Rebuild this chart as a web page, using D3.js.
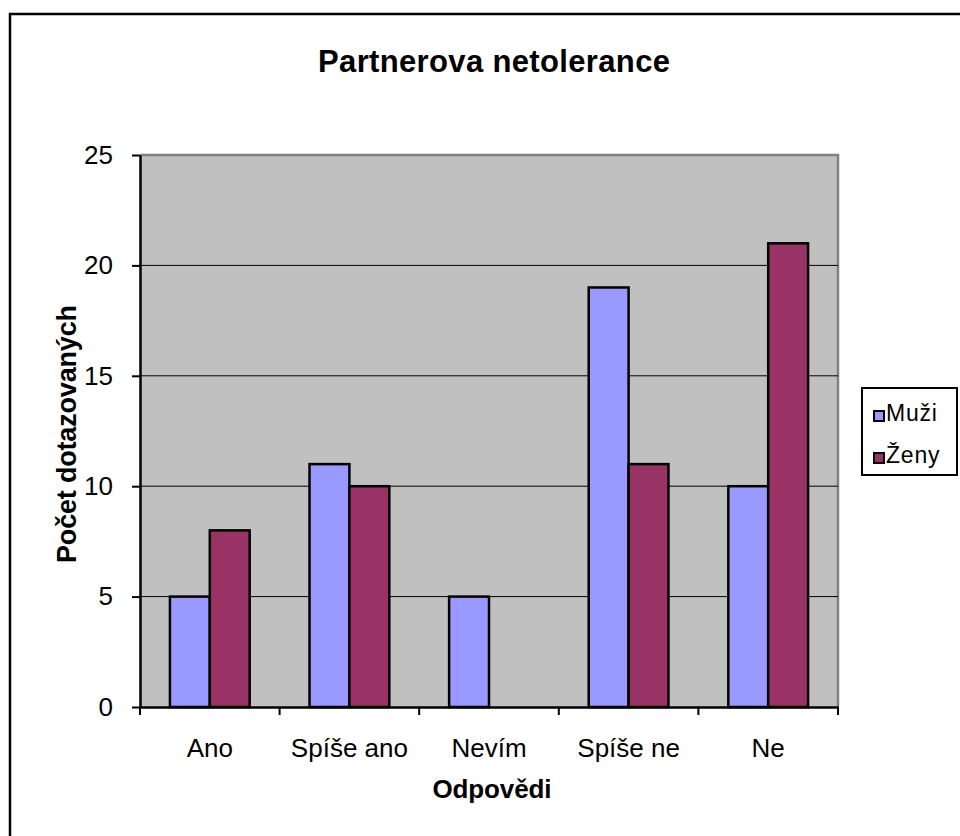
<!DOCTYPE html>
<html><head><meta charset="utf-8">
<script src="https://cdn.jsdelivr.net/npm/d3@7"></script>
<style>
html,body{margin:0;padding:0;background:#fff;}
svg{display:block;font-family:"Liberation Sans",Arial,sans-serif;}
</style></head>
<body>
<svg id="chart" width="960" height="836"></svg>
<script>
const categories = ["Ano", "Spíše ano", "Nevím", "Spíše ne", "Ne"];
const seriesNames = ["Muži", "Ženy"];
const muzi = [5, 11, 5, 19, 10];
const zeny = [8, 10, 0, 11, 21];
const yTicks = [0, 5, 10, 15, 20, 25];
const colors = ["#9999FF", "#993366"];

const values = [muzi, zeny];
const svg = d3.select("#chart");

// outer chart border
svg.append("rect").attr("x", 10).attr("y", 14).attr("width", 1000).attr("height", 900)
  .attr("fill", "#fff").attr("stroke", "#000").attr("stroke-width", 2.5);

const L = 140, R = 838, T = 155, B = 707;
const y = d3.scaleLinear().domain([0, 25]).range([B, T]);
const x0 = d3.scaleBand().domain(categories).range([L, R]).padding(0);
const x1 = d3.scaleBand().domain(seriesNames).range([0, x0.bandwidth()]).paddingInner(0).paddingOuter(0.75);

// plot area
svg.append("rect").attr("x", L).attr("y", T).attr("width", R - L).attr("height", B - T)
  .attr("fill", "#C0C0C0");
svg.append("path").attr("d", `M${L},${T}H${R}V${B}`).attr("fill", "none")
  .attr("stroke", "#808080").attr("stroke-width", 2.5);

// gridlines
svg.append("g").selectAll("line").data(yTicks.filter(t => t > 0 && t < 25)).join("line")
  .attr("x1", L).attr("x2", R).attr("y1", d => y(d)).attr("y2", d => y(d))
  .attr("stroke", "#000").attr("stroke-width", 1);

// bars
const groups = svg.append("g").selectAll("g").data(categories).join("g")
  .attr("transform", d => `translate(${x0(d)},0)`);
groups.selectAll("rect").data((c, i) => seriesNames.map((s, j) => ({s, j, v: values[j][i]})).filter(d => d.v > 0))
  .join("rect")
  .attr("x", d => x1(d.s)).attr("width", x1.bandwidth())
  .attr("y", d => y(d.v)).attr("height", d => y(0) - y(d.v))
  .attr("fill", d => colors[d.j]).attr("stroke", "#000").attr("stroke-width", 2.5);

// y axis
const yAxis = svg.append("g").attr("transform", `translate(${L},0)`)
  .call(d3.axisLeft(y).tickValues(yTicks).tickSize(8).tickPadding(19).tickSizeOuter(0));
yAxis.select(".domain").attr("stroke", "#000").attr("stroke-width", 2.5);
yAxis.selectAll(".tick line").attr("stroke", "#000").attr("stroke-width", 2);
yAxis.selectAll(".tick text").attr("font-size", 26).attr("fill", "#000")
  .attr("font-family", "Liberation Sans, Arial, sans-serif");

// x axis
const xAxis = svg.append("g").attr("transform", `translate(0,${B})`)
  .call(d3.axisBottom(x0).tickSize(0).tickPadding(0).tickSizeOuter(0));
xAxis.select(".domain").attr("stroke", "#000").attr("stroke-width", 2.5);
xAxis.selectAll(".tick text").attr("font-size", 26).attr("fill", "#000")
  .attr("font-family", "Liberation Sans, Arial, sans-serif")
  .attr("dy", null).attr("y", 50);
// category boundary tick marks
const bounds = categories.map(c => x0(c)).concat([R]);
svg.append("g").selectAll("line").data(bounds).join("line")
  .attr("x1", d => d).attr("x2", d => d).attr("y1", B).attr("y2", B + 8)
  .attr("stroke", "#000").attr("stroke-width", 2);

// title
svg.append("text").attr("x", 494).attr("y", 72).attr("text-anchor", "middle")
  .attr("font-size", 31).attr("font-weight", "bold")
  .attr("textLength", 352).attr("lengthAdjust", "spacing")
  .text("Partnerova netolerance");

// axis titles
svg.append("text").attr("x", 492).attr("y", 798).attr("text-anchor", "middle")
  .attr("font-size", 26).attr("font-weight", "bold")
  .attr("textLength", 119).attr("lengthAdjust", "spacing")
  .text("Odpovědi");
svg.append("text").attr("transform", "translate(76,434) rotate(-90)").attr("text-anchor", "middle")
  .attr("font-size", 27).attr("font-weight", "bold")
  .attr("textLength", 258).attr("lengthAdjust", "spacing")
  .text("Počet dotazovaných");

// legend
const lg = svg.append("g");
lg.append("rect").attr("x", 862).attr("y", 388).attr("width", 95).attr("height", 87)
  .attr("fill", "#fff").attr("stroke", "#000").attr("stroke-width", 2);
const items = lg.selectAll("g").data(seriesNames).join("g")
  .attr("transform", (d, i) => `translate(0,${i * 42})`);
items.append("rect").attr("x", 874).attr("y", 411).attr("width", 10).attr("height", 10)
  .attr("fill", (d, i) => colors[i]).attr("stroke", "#000").attr("stroke-width", 2);
items.append("text").attr("x", 886).attr("y", 421).attr("font-size", 23)
  .attr("letter-spacing", 0.8)
  .text(d => d);
</script>
</body></html>
